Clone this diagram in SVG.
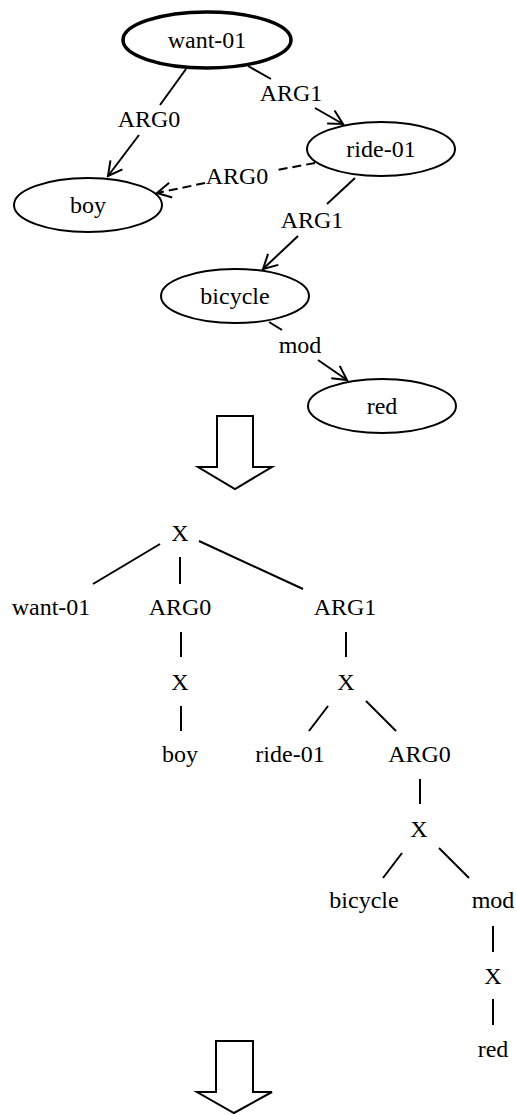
<svg xmlns="http://www.w3.org/2000/svg" width="516" height="1115" viewBox="0 0 516 1115">
<style>
text{font-family:"Liberation Serif","Times New Roman",serif;font-size:24px;fill:#000;text-anchor:middle}
.n{fill:#fff;stroke:#000;stroke-width:2}
.e{fill:none;stroke:#000;stroke-width:2}
.d{stroke-dasharray:9,5}
.t{fill:none;stroke:#000;stroke-width:2}
.blk{fill:#fff;stroke:#000;stroke-width:2;stroke-linejoin:miter}
</style>
<defs>
<marker id="ah" markerUnits="userSpaceOnUse" markerWidth="18" markerHeight="18" viewBox="-1 -1 18 18" refX="14" refY="7.5" orient="auto">
<path d="M0,0 L14,7.5 L0,15" fill="none" stroke="#000" stroke-width="2"/>
</marker>
</defs>
<rect width="516" height="1115" fill="#fff"/>
<g id="connectors">
<line class="e" x1="186" y1="69" x2="160" y2="105"/>
<line class="e" x1="139" y1="135" x2="108" y2="176" marker-end="url(#ah)"/>
<line class="e" x1="248" y1="66" x2="271" y2="79"/>
<line class="e" x1="315" y1="108" x2="343" y2="124" marker-end="url(#ah)"/>
<line class="e d" x1="315" y1="163" x2="277" y2="170"/>
<line class="e d" x1="205" y1="183" x2="157" y2="193" marker-end="url(#ah)"/>
<line class="e" x1="355" y1="178" x2="327" y2="204"/>
<line class="e" x1="298" y1="236" x2="263" y2="269" marker-end="url(#ah)"/>
<line class="e" x1="269" y1="322" x2="282" y2="330"/>
<line class="e" x1="318" y1="360" x2="347" y2="380" marker-end="url(#ah)"/>
<text x="149" y="127">ARG0</text>
<text x="291" y="101">ARG1</text>
<text x="237" y="184">ARG0</text>
<text x="312" y="228">ARG1</text>
<text x="300" y="353">mod</text>
</g>
<g id="want-01"><ellipse class="n" cx="207" cy="40" rx="84" ry="28" style="stroke-width:3.5"/><text x="207" y="48">want-01</text></g>
<g id="boy"><ellipse class="n" cx="88" cy="205" rx="74" ry="27"/><text x="88" y="213">boy</text></g>
<g id="ride-01"><ellipse class="n" cx="381" cy="149" rx="74" ry="27"/><text x="381" y="157">ride-01</text></g>
<g id="bicycle"><ellipse class="n" cx="235" cy="296" rx="74" ry="27"/><text x="235" y="304">bicycle</text></g>
<g id="red"><ellipse class="n" cx="382" cy="406" rx="74" ry="27"/><text x="382" y="414">red</text></g>
<g id="arrow1"><path class="blk" d="M217,416 L253,416 L253,467 L272,467 L235,489 L198,467 L217,467 Z"/></g>
<g id="tree">
<g id="tree-lines">
<line class="t" x1="160" y1="544" x2="93" y2="584"/>
<line class="t" x1="180" y1="557" x2="180" y2="584"/>
<line class="t" x1="199" y1="541" x2="303" y2="589"/>
<line class="t" x1="181" y1="632" x2="181" y2="657"/>
<line class="t" x1="181" y1="706" x2="181" y2="731"/>
<line class="t" x1="346" y1="632" x2="346" y2="657"/>
<line class="t" x1="328" y1="706" x2="309" y2="731"/>
<line class="t" x1="366" y1="701" x2="396" y2="731"/>
<line class="t" x1="420" y1="779" x2="420" y2="804"/>
<line class="t" x1="402" y1="853" x2="383" y2="878"/>
<line class="t" x1="439" y1="848" x2="469" y2="878"/>
<line class="t" x1="493" y1="926" x2="493" y2="952"/>
<line class="t" x1="493" y1="999" x2="493" y2="1025"/>
</g>
<g id="t-x1"><text x="180" y="541">X</text></g>
<g id="t-want"><text x="51" y="615">want-01</text></g>
<g id="t-arg0"><text x="180" y="615">ARG0</text></g>
<g id="t-arg1"><text x="345" y="615">ARG1</text></g>
<g id="t-x2"><text x="180" y="690">X</text></g>
<g id="t-boy"><text x="180" y="762">boy</text></g>
<g id="t-x3"><text x="346" y="690">X</text></g>
<g id="t-ride"><text x="290" y="762">ride-01</text></g>
<g id="t-arg0b"><text x="419.5" y="762">ARG0</text></g>
<g id="t-x4"><text x="419" y="837">X</text></g>
<g id="t-bicycle"><text x="364" y="908">bicycle</text></g>
<g id="t-mod"><text x="493" y="908">mod</text></g>
<g id="t-x5"><text x="493" y="984">X</text></g>
<g id="t-red"><text x="493" y="1057">red</text></g>
</g>
<g id="arrow2"><path class="blk" d="M216,1041 L253,1041 L253,1092 L272,1092 L234,1113 L197,1092 L216,1092 Z"/></g>
</svg>
